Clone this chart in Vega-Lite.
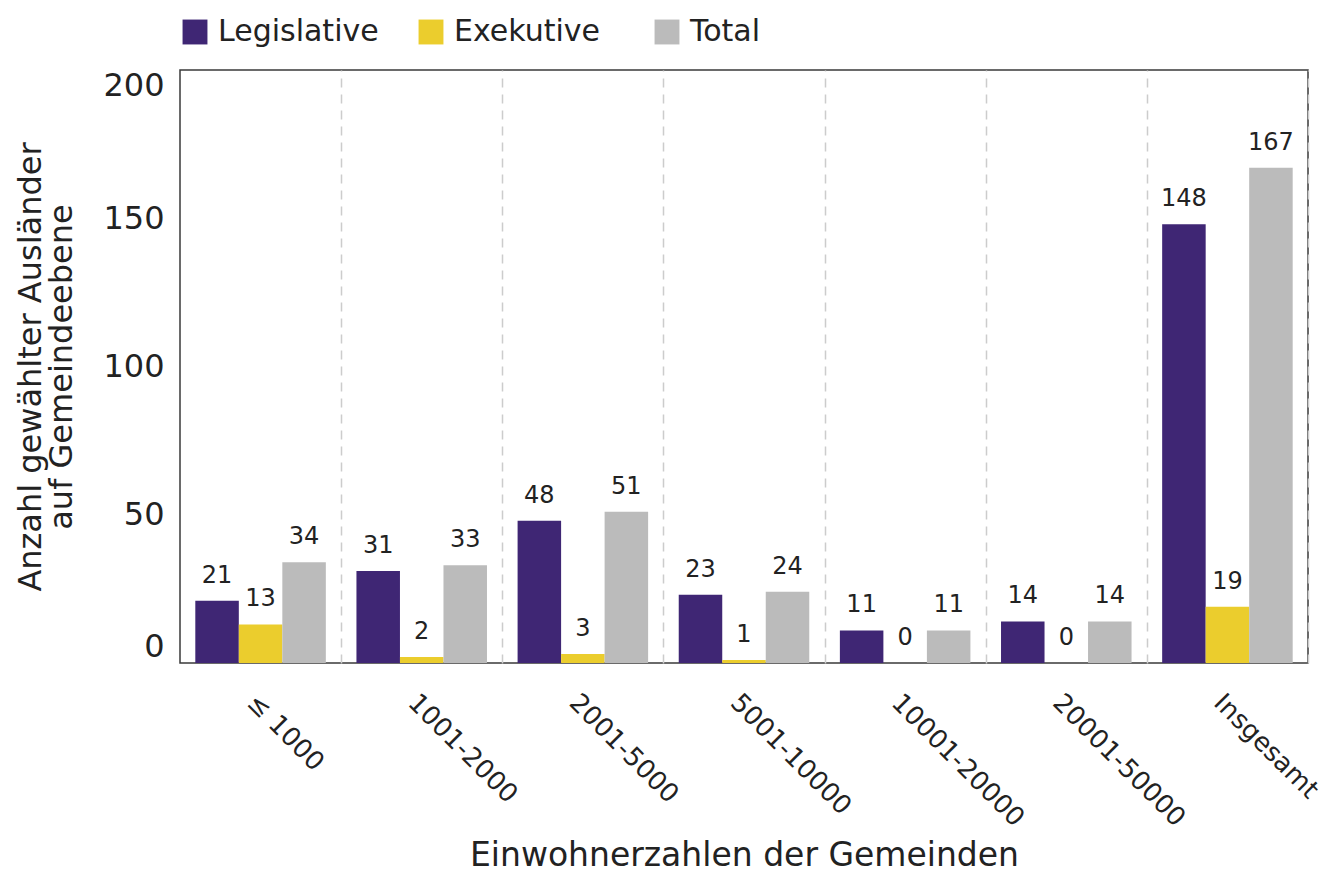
{
  "$schema": "https://vega.github.io/schema/vega-lite/v6.json",
  "width": 1128,
  "height": 593,
  "autosize": {"type": "none"},
  "padding": {"left": 180, "top": 70, "right": 25, "bottom": 214},
  "background": "white",
  "config": {
    "view": {"stroke": "#3a3a3a", "strokeWidth": 1.5},
    "font": "DejaVu Sans"
  },
  "resolve": {"axis": {"x": "independent"}},
  "data": {
    "values": [
      {"group": "≤ 1000", "series": "Legislative", "value": 21},
      {"group": "≤ 1000", "series": "Exekutive", "value": 13},
      {"group": "≤ 1000", "series": "Total", "value": 34},
      {"group": "1001-2000", "series": "Legislative", "value": 31},
      {"group": "1001-2000", "series": "Exekutive", "value": 2},
      {"group": "1001-2000", "series": "Total", "value": 33},
      {"group": "2001-5000", "series": "Legislative", "value": 48},
      {"group": "2001-5000", "series": "Exekutive", "value": 3},
      {"group": "2001-5000", "series": "Total", "value": 51},
      {"group": "5001-10000", "series": "Legislative", "value": 23},
      {"group": "5001-10000", "series": "Exekutive", "value": 1},
      {"group": "5001-10000", "series": "Total", "value": 24},
      {"group": "10001-20000", "series": "Legislative", "value": 11},
      {"group": "10001-20000", "series": "Exekutive", "value": 0},
      {"group": "10001-20000", "series": "Total", "value": 11},
      {"group": "20001-50000", "series": "Legislative", "value": 14},
      {"group": "20001-50000", "series": "Exekutive", "value": 0},
      {"group": "20001-50000", "series": "Total", "value": 14},
      {"group": "Insgesamt", "series": "Legislative", "value": 148},
      {"group": "Insgesamt", "series": "Exekutive", "value": 19},
      {"group": "Insgesamt", "series": "Total", "value": 167}
    ]
  },
  "encoding": {
    "xOffset": {
      "field": "series",
      "sort": ["Legislative", "Exekutive", "Total"],
      "scale": {"paddingInner": 0, "paddingOuter": 0}
    },
    "y": {
      "field": "value",
      "type": "quantitative",
      "scale": {"domain": [0, 200]},
      "axis": {
        "values": [0, 50, 100, 150, 200],
        "title": ["Anzahl gewählter Ausländer", "auf Gemeindeebene"],
        "titleFontSize": 32,
        "titleLineHeight": 31,
        "titleFontWeight": "normal",
        "titleColor": "#222222",
        "titlePadding": 24,
        "labelFontSize": 32,
        "labelColor": "#222222",
        "labelPadding": 16,
        "labelFlush": true,
        "ticks": false,
        "domain": false,
        "grid": false
      }
    }
  },
  "layer": [
    {
      "mark": {"type": "bar"},
      "encoding": {
        "x": {
          "field": "group",
          "type": "nominal",
          "sort": ["≤ 1000", "1001-2000", "2001-5000", "5001-10000", "10001-20000", "20001-50000", "Insgesamt"],
          "scale": {"paddingInner": 0.19, "paddingOuter": 0.095},
          "axis": {
            "title": "Einwohnerzahlen der Gemeinden",
            "titleFontSize": 33,
            "titleFontWeight": "normal",
            "titleColor": "#222222",
            "titlePadding": 9,
            "labelAngle": 45,
            "labelAlign": "left",
            "labelBaseline": "top",
            "labelFontSize": 26,
            "labelColor": "#222222",
            "labelPadding": 26,
            "ticks": false,
            "domain": false,
            "grid": false
          }
        },
        "color": {
          "field": "series",
          "type": "nominal",
          "sort": ["Legislative", "Exekutive", "Total"],
          "scale": {
            "domain": ["Legislative", "Exekutive", "Total"],
            "range": ["#3f2674", "#ebcd2d", "#bbbbbb"]
          },
          "legend": {
            "title": null,
            "orient": "top",
            "direction": "horizontal",
            "offset": 23,
            "symbolType": "square",
            "symbolSize": 620,
            "symbolStrokeWidth": 0,
            "symbolOpacity": 1,
            "labelFontSize": 30,
            "labelLimit": 400,
            "labelColor": "#222222",
            "labelOffset": 8,
            "gridAlign": "all",
            "columnPadding": 37
          }
        }
      }
    },
    {
      "mark": {"type": "text", "baseline": "bottom", "dy": -13, "fontSize": 24, "color": "#222222"},
      "encoding": {
        "x": {
          "field": "group",
          "type": "nominal",
          "sort": ["≤ 1000", "1001-2000", "2001-5000", "5001-10000", "10001-20000", "20001-50000", "Insgesamt"],
          "axis": {
            "orient": "top",
            "title": null,
            "labels": false,
            "ticks": false,
            "domain": false,
            "grid": true,
            "bandPosition": 1,
            "tickOffset": 15.3,
            "gridDash": [9, 7],
            "gridColor": "#cccccc",
            "gridWidth": 1.5
          }
        },
        "text": {"field": "value", "type": "quantitative"}
      }
    }
  ]
}
